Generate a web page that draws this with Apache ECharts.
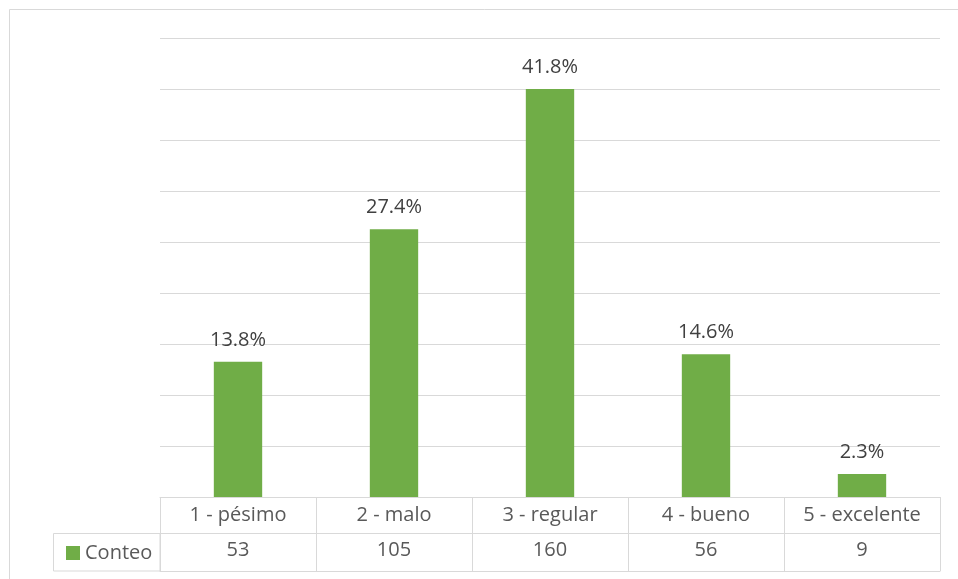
<!DOCTYPE html>
<html>
<head>
<meta charset="utf-8">
<script src="https://cdn.jsdelivr.net/npm/echarts@6/dist/echarts.min.js"></script>
<style>html,body{margin:0;padding:0;background:#fff}#c{width:958px;height:579px}</style>
</head>
<body>
<div id="c"></div>
<script>
const categories = ['1 - pésimo', '2 - malo', '3 - regular', '4 - bueno', '5 - excelente'];
const counts = [53, 105, 160, 56, 9];
const seriesName = 'Conteo';

const total = counts.reduce((a, b) => a + b, 0);
const FONT = '"Open Sans", "Liberation Sans", sans-serif';
const GRID = '#d9d9d9';

const chart = echarts.init(document.getElementById('c'), null, { renderer: 'canvas' });
chart.setOption({
  animation: false,
  backgroundColor: '#ffffff',
  grid: { left: 160, right: 18, top: 38, bottom: 82 },
  legend: {
    data: [seriesName],
    left: 61, top: 538,
    itemWidth: 14, itemHeight: 14, itemGap: 5,
    icon: 'rect',
    textStyle: { fontFamily: FONT, fontSize: 20, color: '#595959' }
  },
  xAxis: [
    {
      type: 'category', data: categories, position: 'bottom',
      axisLine: { show: true, lineStyle: { color: GRID, width: 1 } },
      axisTick: { show: true, interval: 0, length: 74, inside: false, lineStyle: { color: GRID, width: 1 } },
      axisLabel: { interval: 0, margin: 8, fontFamily: FONT, fontSize: 20, color: '#595959' }
    },
    {
      type: 'category', data: counts.map(String), position: 'bottom', offset: 36,
      axisLine: { show: true, lineStyle: { color: GRID, width: 1 } },
      axisTick: { show: false },
      axisLabel: { interval: 0, margin: 7, fontFamily: FONT, fontSize: 20, color: '#595959' }
    },
    {
      type: 'category', data: categories, position: 'bottom', offset: 74,
      axisLine: { show: true, lineStyle: { color: GRID, width: 1 } },
      axisTick: { show: false },
      axisLabel: { show: false }
    }
  ],
  yAxis: {
    type: 'value', min: 0, max: 180, interval: 20,
    axisLine: { show: false }, axisTick: { show: false }, axisLabel: { show: false },
    splitLine: { show: true, lineStyle: { color: GRID, width: 1 } }
  },
  series: [{
    name: seriesName, type: 'bar', data: counts, barWidth: '31%',
    itemStyle: { color: '#70ad47' },
    label: {
      show: true, position: 'top', distance: 12,
      fontFamily: FONT, fontSize: 20, color: '#404040',
      formatter: p => (p.value / total * 100).toFixed(1) + '%'
    }
  }],
  graphic: [
    { type: 'rect', shape: { x: 9.5, y: 9.5, width: 1000, height: 1000 }, style: { fill: 'none', stroke: GRID, lineWidth: 1 }, silent: true },
    { type: 'rect', shape: { x: 53.5, y: 533.5, width: 106.5, height: 37.5 }, style: { fill: 'none', stroke: GRID, lineWidth: 1 }, silent: true }
  ]
});
</script>
</body>
</html>
